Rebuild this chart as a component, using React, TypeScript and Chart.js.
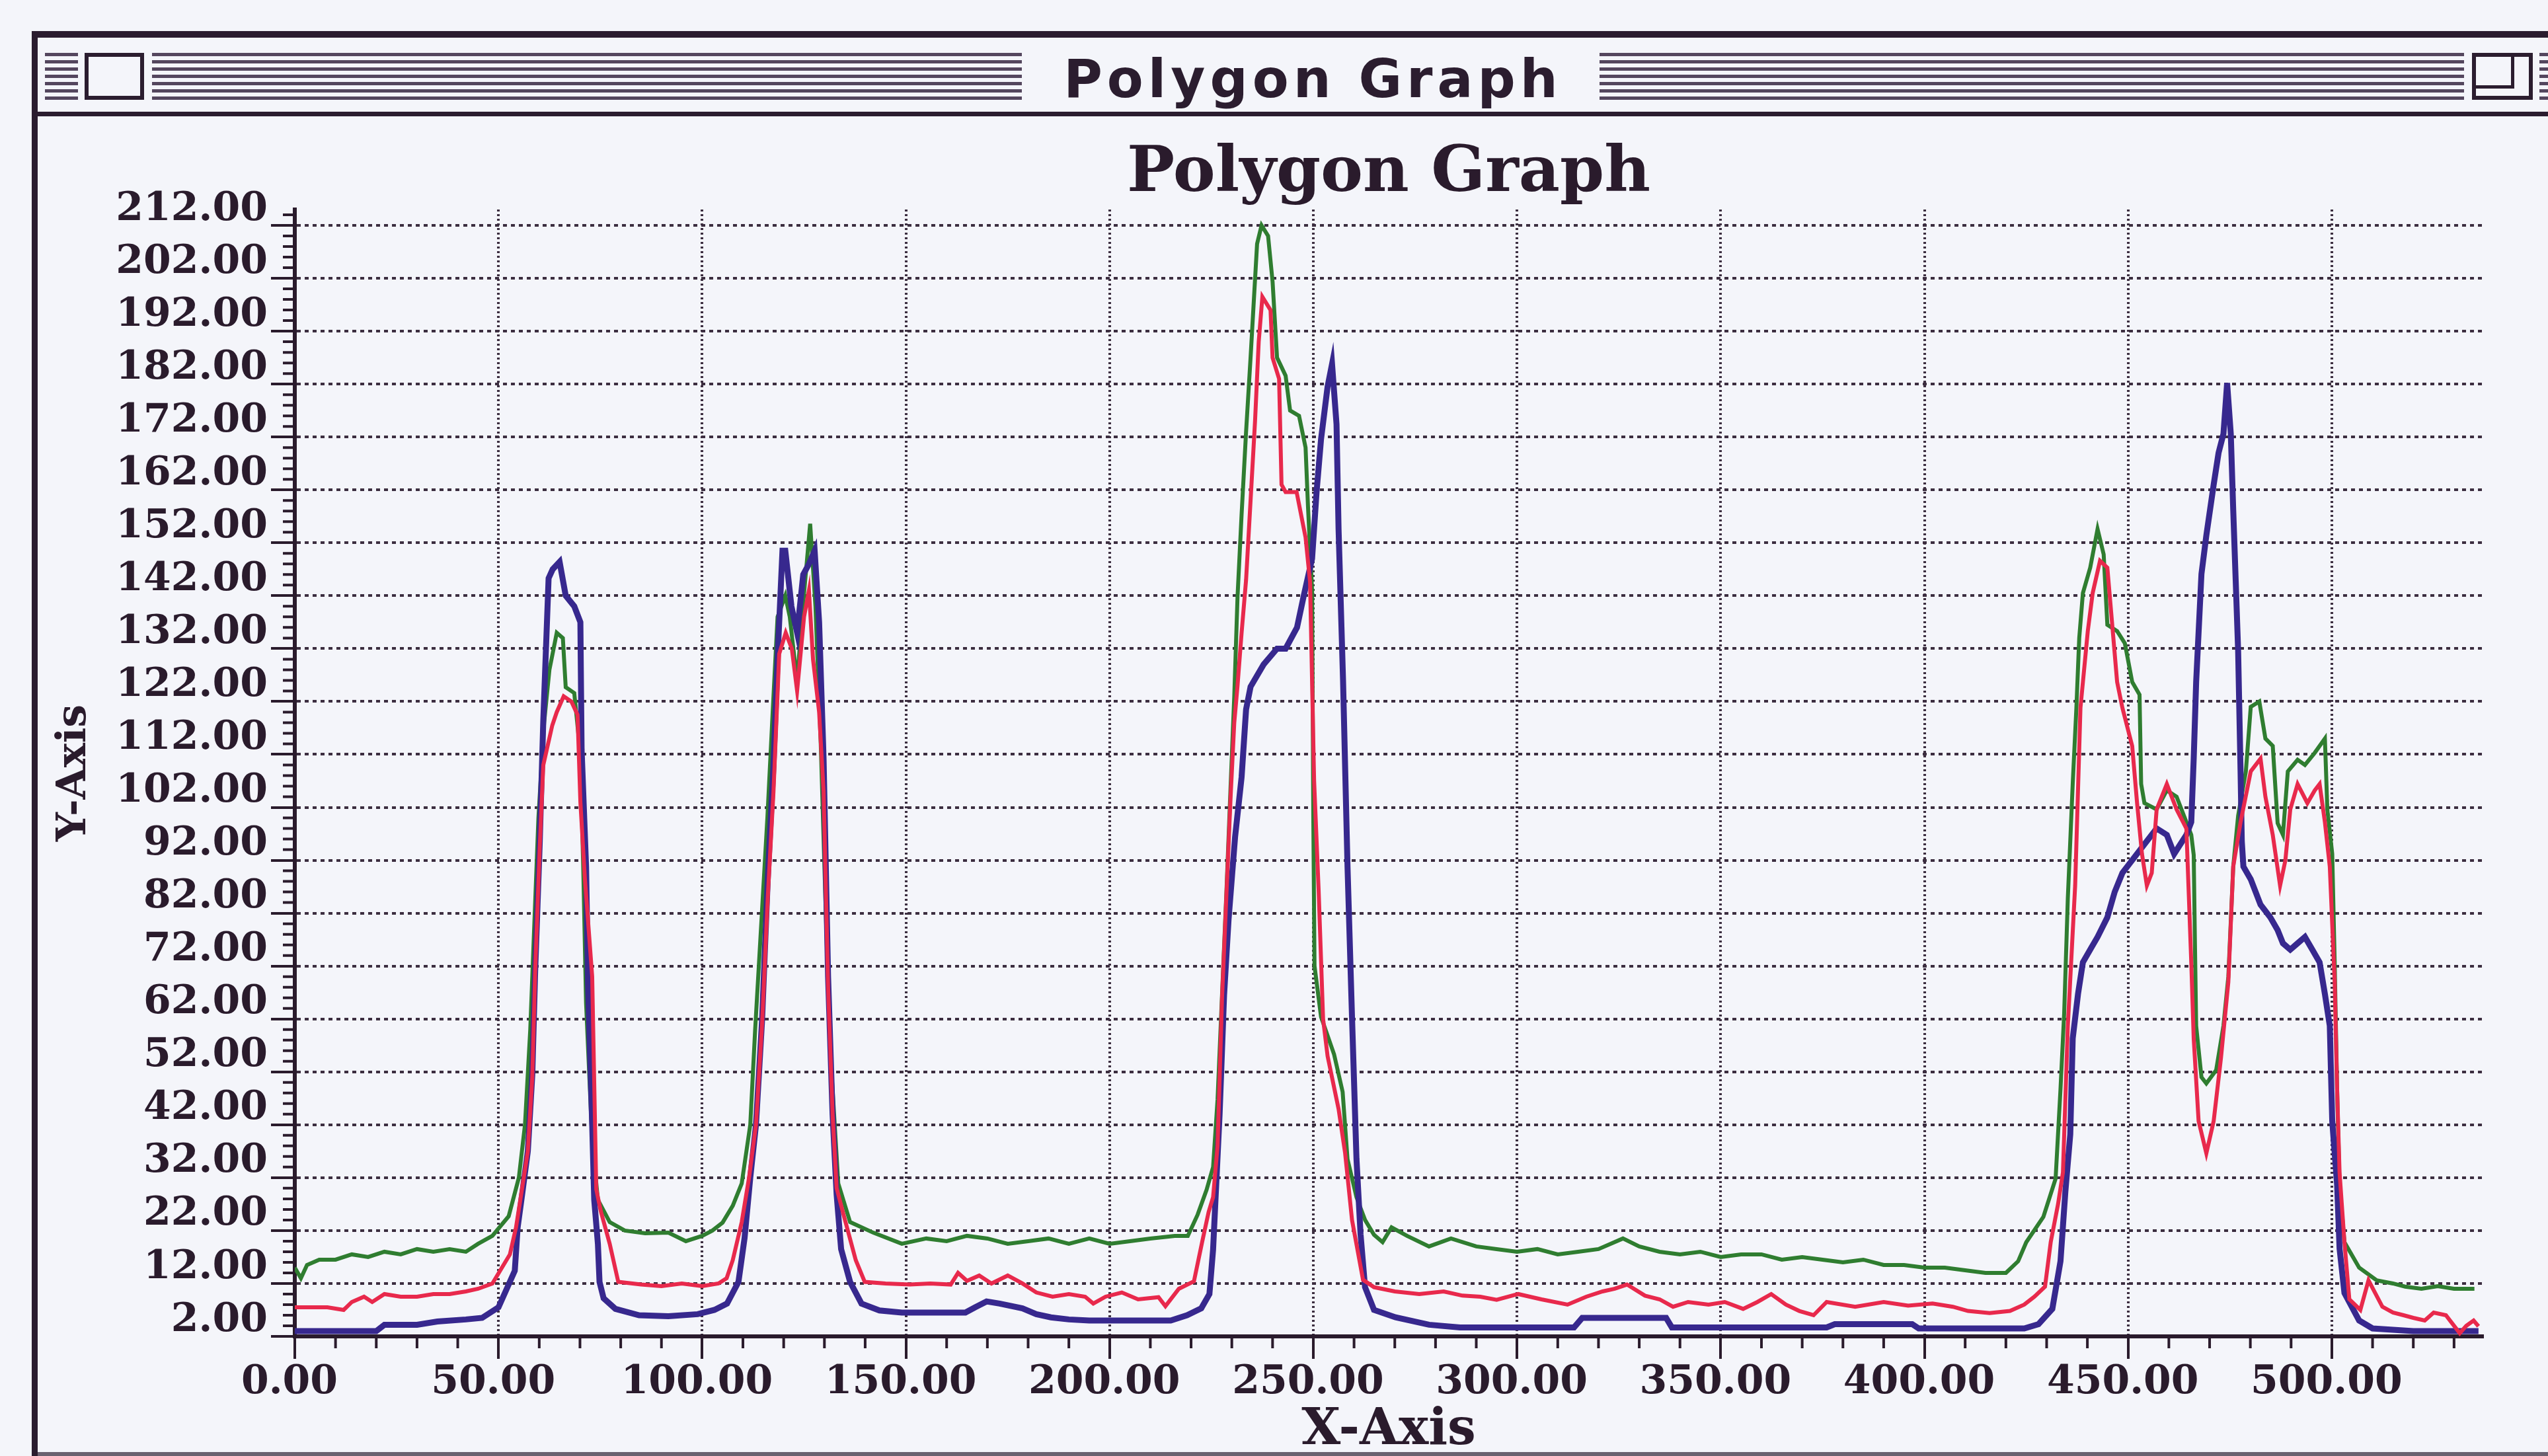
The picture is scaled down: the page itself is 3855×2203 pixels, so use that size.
import React, { useEffect, useRef } from 'react';
import { Chart, registerables } from 'chart.js';

Chart.register(...registerables);

// ---------- data ----------
const xTickValues = [0, 50, 100, 150, 200, 250, 300, 350, 400, 450, 500];
const yTickValues = [2, 12, 22, 32, 42, 52, 62, 72, 82, 92, 102, 112, 122, 132, 142, 152, 162, 172, 182, 192, 202, 212];

const greenPoints: [number, number][] = [
  [0, 15], [1.5, 13], [3, 15.5], [6, 16.5], [10, 16.5], [14, 17.5], [18, 17], [22, 18], [26, 17.5], [30, 18.5],
  [34, 18], [38, 18.5], [42, 18], [45, 19.5], [48.5, 21], [52.5, 24.7], [55, 32], [56.5, 42], [57.8, 60], [58.8, 80],
  [59.8, 100], [61.2, 118], [62.5, 128], [64.3, 135], [65.8, 134], [66.5, 124.7], [68.6, 123.6], [70.1, 112], [70.8, 90.7],
  [71.5, 65], [73, 39], [74.4, 27.8], [77.3, 23.6], [81, 22], [86, 21.5], [91.7, 21.6], [96, 20], [100, 21], [102.5, 22],
  [105, 23.5], [107.5, 26.7], [109.7, 30.9], [111.8, 42], [113, 60], [114.5, 80], [116, 100], [117.3, 120], [118.5, 138],
  [120.4, 142], [121.5, 138], [123.3, 125.7], [124.5, 138], [126.5, 155.6], [127.8, 140], [129.1, 114], [131.3, 57.7],
  [133.4, 30.9], [136.3, 23.6], [142, 21.6], [149, 19.5], [155, 20.5], [160, 20], [165, 21], [170, 20.5], [175, 19.5],
  [180, 20], [185, 20.5], [190, 19.5], [195, 20.5], [200, 19.5], [205, 20], [210, 20.5], [216, 21], [219.2, 21],
  [221.6, 25], [223.8, 29.7], [225.4, 34], [226.5, 46.8], [227.6, 66.6], [228.7, 86.5], [229.7, 106], [230.6, 123],
  [231.4, 141.8], [232.4, 157.4], [233.5, 173], [234.6, 187], [236.2, 208.5], [237.3, 212], [238.9, 210], [240, 201.4],
  [241.1, 187], [243.2, 183.6], [244.3, 177], [246.5, 176], [248.1, 170], [248.7, 158.8], [249.7, 143], [250, 100],
  [250.3, 72], [251.9, 62.4], [255.1, 55.3], [257.2, 48.2], [258.4, 35.5], [260.6, 28.3], [262.7, 24], [264.9, 21.2],
  [267, 19.8], [269.2, 22.6], [273, 21], [278.4, 19], [283.8, 20.5], [290, 19], [295, 18.5], [300, 18], [305, 18.5],
  [310, 17.5], [315, 18], [320, 18.5], [326, 20.5], [330, 19], [335, 18], [340, 17.5], [345, 18], [350, 17], [355, 17.5],
  [360, 17.5], [365, 16.5], [370, 17], [375, 16.5], [380, 16], [385, 16.5], [390, 15.5], [395, 15.5], [400, 15],
  [405, 15], [410, 14.5], [415, 14], [420, 14], [423, 16.2], [425, 19.8], [429.2, 24.6], [432.2, 31.8], [433.4, 48.7],
  [434.3, 63], [435.2, 84.8], [436.4, 106.4], [437.3, 120.8], [438, 134], [438.9, 142.5], [440.7, 147.3], [442.5, 154.6],
  [444, 149.8], [444.9, 136.5], [447.3, 135.3], [449.2, 133], [451, 125.7], [452.8, 123.3], [453.2, 106.4], [454, 102.8],
  [457, 101.6], [459.5, 105.2], [461.9, 104], [464.3, 99.2], [465.5, 96.8], [466.1, 93], [466.4, 76.3], [466.7, 60.7],
  [468, 51], [469.2, 49.8], [471.6, 52.3], [473.4, 60.7], [474.6, 70], [475.8, 90.8], [477, 100.4], [478.9, 108.8],
  [480.1, 121], [482.2, 122], [483.7, 115], [485.5, 113.6], [486.7, 99], [488, 96.8], [489.2, 108.8], [491.6, 111],
  [493.4, 110], [495.8, 112.3], [498.3, 115], [498.9, 101.6], [500.1, 93.2], [500.7, 72.7], [501.3, 48.7], [501.9, 30.6],
  [503.1, 19.8], [506.7, 15], [511, 12.6], [515, 12], [518, 11.4], [522, 11], [526, 11.5], [530, 11], [535, 11],
];

const redPoints: [number, number][] = [
  [0, 7.5], [4, 7.5], [8, 7.5], [12, 7], [14, 8.5], [17, 9.5], [19, 8.5], [22, 10], [26, 9.5], [30, 9.5], [34, 10],
  [38, 10], [42, 10.5], [45, 11], [48.5, 12], [52.8, 17.5], [54.3, 22.6], [55.8, 30], [57.2, 37], [58.3, 51], [59, 71],
  [60.1, 94], [61, 110], [63.2, 117.5], [64.3, 120], [66, 123], [67.9, 122], [69.4, 119.5], [70.1, 103], [71.2, 88.6],
  [73, 70], [74, 29.8], [75.1, 25.7], [77.3, 19.5], [79.4, 12.3], [85, 11.8], [90, 11.5], [95, 12], [100, 11.5],
  [104, 12], [106, 13], [107.5, 16.4], [109.7, 23.6], [111.5, 32], [113.2, 42], [114.7, 61], [116.1, 85], [117.5, 105],
  [118.9, 131], [120.5, 135], [122, 132], [123.3, 124], [125, 138], [126.2, 143], [127.2, 130], [128.7, 120],
  [129.8, 105], [130.9, 68], [132, 44], [133, 30], [134.8, 24.7], [137.7, 16.4], [139.9, 12.3], [145, 12], [151, 11.8],
  [156, 12], [161, 11.8], [162.8, 14], [165, 12.5], [168, 13.5], [171, 12], [175, 13.5], [178.6, 12], [182, 10.3],
  [186, 9.5], [190, 10], [194, 9.5], [196, 8.2], [199, 9.5], [203, 10.3], [207, 9], [212, 9.4], [213.7, 7.7], [217, 11],
  [220.7, 12.4], [222.7, 19.8], [224.3, 25.5], [225.4, 28.3], [226.5, 38], [227.6, 66], [228.7, 86], [229.7, 104],
  [230.6, 118], [231.4, 125], [232.4, 135], [233.5, 145], [234.6, 160], [235.7, 175], [236.6, 190], [237.5, 198.5],
  [239.5, 196], [240, 187], [241.6, 183], [242.2, 163], [243.2, 161.6], [245.9, 161.6], [248.1, 153], [249.2, 144.6],
  [250.2, 107], [251.3, 86.5], [252.4, 62], [253.5, 55], [256.2, 45], [257.8, 36.7], [259.5, 24], [262.2, 12.7],
  [264.9, 11.3], [270, 10.5], [276, 10], [282, 10.5], [286.6, 9.7], [291, 9.5], [295, 8.9], [300.3, 10], [306, 9],
  [312.4, 8], [317, 9.5], [321, 10.5], [324, 11], [327, 11.8], [331.4, 9.7], [335, 9], [338.3, 7.6], [342, 8.5],
  [347, 8], [351, 8.5], [355.5, 7.2], [359, 8.5], [362.4, 10], [366, 8], [369.3, 6.8], [372.8, 6], [376, 8.5],
  [383, 7.6], [390, 8.5], [396, 7.8], [402, 8.2], [407, 7.6], [410.7, 6.8], [416, 6.4], [421, 6.8], [424.5, 8],
  [427, 9.5], [429.6, 11.4], [431, 19.8], [432.8, 27], [434, 33], [435.2, 60.7], [437, 87.2], [438.3, 120.8],
  [440.1, 135.3], [441.3, 142.5], [443.1, 148.6], [444.9, 147.3], [447.3, 125.7], [448.6, 120.8], [451, 113.6],
  [452.2, 102.8], [453.4, 93.2], [454.6, 87.2], [455.8, 89.6], [457, 101.6], [459.5, 106.4], [461.9, 101.6], [464.3, 98],
  [465.5, 72.7], [466.1, 58.3], [467.3, 42.7], [469.2, 36.6], [471, 42.7], [472.8, 54.7], [474.6, 69], [475.8, 90.8],
  [477.6, 99.2], [480.1, 108.8], [482.5, 111.2], [483.7, 104], [485.5, 96.8], [487.3, 87.2], [488.6, 92], [489.8, 101.6],
  [491.6, 106.4], [494, 102.8], [495.8, 105.2], [497, 106.4], [498.3, 99.2], [499.5, 90.8], [500.7, 69], [501.3, 48.7],
  [501.9, 33], [503.1, 19.8], [504.3, 9], [507, 7], [509, 12.6], [512.4, 7.6], [515, 6.5], [517.6, 6], [520, 5.5],
  [522.8, 5], [525, 6.5], [528, 6], [531.4, 2.6], [533, 4], [534.8, 5], [536, 3.9],
];

const bluePoints: [number, number][] = [
  [0, 3], [10, 3], [20, 3], [22, 4.2], [30, 4.2], [35, 4.8], [42, 5.2], [46, 5.5], [50, 7.5], [54, 14.4], [54.7, 22.6],
  [55.8, 28.8], [57.2, 37], [58.3, 51.5], [59, 71], [60.1, 94.8], [61, 118.5], [62.3, 145.3], [63.3, 147], [65, 148.4],
  [66.5, 142], [68.6, 140], [70.1, 137], [70.4, 113], [71.5, 90.7], [72, 68], [73, 42], [73.5, 27.8], [74.4, 19.5],
  [74.8, 12.3], [75.8, 9.2], [78.7, 7.2], [84.5, 6], [91.7, 5.8], [98.9, 6.2], [103, 7], [106.1, 8.2], [108.9, 12.3],
  [110.4, 20.6], [111.8, 32], [113.2, 42], [114.7, 61.8], [116.1, 88.6], [117.5, 110], [118.6, 131.9], [119.7, 150.5],
  [120.4, 150.5], [121.9, 140], [123.3, 135], [124.8, 146], [126.2, 148], [127.6, 150.5], [128.7, 137], [129.8, 111],
  [130.9, 70], [132, 44], [133, 28.8], [134.1, 18.5], [136.3, 12.3], [139.1, 8.2], [143.5, 6.9], [149, 6.5], [154, 6.5],
  [160, 6.5], [164.6, 6.5], [167, 7.5], [169.8, 8.6], [173, 8.2], [178.6, 7.3], [182, 6.2], [185.6, 5.6], [190, 5.2],
  [195, 5], [205, 5], [215, 5], [219, 6], [222.5, 7.3], [224.5, 10], [225.4, 18.4], [227, 44], [228.1, 66.5],
  [229.2, 80.8], [230.8, 96.4], [232.4, 107.7], [233.5, 120.5], [234.6, 124.8], [237.8, 129], [241.1, 132], [243.2, 132],
  [246, 136], [247.6, 141.8], [249.7, 149], [250.8, 161.6], [251.9, 171.6], [253.5, 181.5], [254.6, 185.8],
  [255.7, 174.4], [256.2, 154.6], [257.3, 126], [258.4, 90.7], [259.5, 62.4], [260.6, 35.5], [261.6, 21.3],
  [262.7, 11.3], [264.9, 7], [270.2, 5.6], [278.4, 4.2], [286, 3.7], [300, 3.7], [314, 3.7], [316, 5.5], [336.6, 5.5],
  [338, 3.7], [376, 3.7], [378, 4.3], [397, 4.3], [398.6, 3.5], [424.5, 3.5], [428, 4.3], [431.4, 7.2], [432.8, 13.5],
  [433.4, 16.2], [434.6, 29.4], [435.8, 40.2], [436.4, 58.3], [437.7, 66.7], [438.9, 72.7], [440.7, 75.1], [442.5, 77.5],
  [444.9, 81.2], [446.7, 86], [448.6, 89.6], [451, 92], [453.4, 94.4], [457, 98], [459.5, 96.8], [461.3, 93.2],
  [464.3, 96.8], [465.5, 99.2], [466.1, 111.2], [466.7, 125.7], [468, 146.1], [469.2, 153.4], [471, 163], [472.2, 169],
  [473.4, 172.6], [474.3, 182.2], [475.2, 172.6], [475.8, 158.2], [476.4, 145], [477, 131.7], [477.6, 108.8],
  [477.9, 95.6], [478.3, 90.8], [480.1, 88.4], [482.5, 83.6], [484.9, 81.2], [486.7, 78.8], [488, 76.3], [489.8, 75.1],
  [491.6, 76.3], [493.4, 77.5], [495.2, 75.1], [497, 72.7], [498.3, 66.7], [499.5, 60.7], [500.1, 42.7], [501.3, 30.6],
  [501.9, 18.6], [503.1, 10.2], [506.7, 5], [510, 3.5], [520, 3], [530, 3], [536, 3],
];

// ---------- styles ----------
const BG = '#f4f5fa';
const INK = '#2a1b2c';
const FRAME = '#2b1d2f';
const STRIPE = '#54465e';
const GRID = '#3c2e40';
const GREEN = '#2f7d30';
const RED = '#e8294c';
const BLUE = '#37288e';
const SERIF = "'DejaVu Serif', serif";

const CANVAS_LEFT = 58;
const CANVAS_TOP = 178;
const CANVAS_W = 3855 - CANVAS_LEFT;
const CANVAS_H = 2203 - CANVAS_TOP;

function Frame() {
  const stripeRows = [80, 91, 102, 113, 124, 135, 146];
  const segments: [number, number][] = [[68, 118], [230, 1546], [2420, 3728], [3842, 3855]];
  const abs = (s: React.CSSProperties): React.CSSProperties => ({ position: 'absolute', ...s });
  return (
    <>
      <div style={abs({ left: 48, top: 47, width: 9, height: 2156, background: FRAME })} />
      <div style={abs({ left: 48, top: 47, width: 3807, height: 10, background: FRAME })} />
      <div style={abs({ left: 57, top: 169, width: 3798, height: 7, background: FRAME })} />
      {segments.map(([a, b]) =>
        stripeRows.map((y) => (
          <div key={`${a}-${y}`} style={abs({ left: a, top: y, width: b - a, height: 5, background: STRIPE })} />
        ))
      )}
      <div
        style={abs({
          left: 128, top: 80, width: 90, height: 71, boxSizing: 'border-box',
          border: `6px solid ${FRAME}`, background: BG,
        })}
      />
      <div
        style={abs({
          left: 3740, top: 80, width: 92, height: 71, boxSizing: 'border-box',
          border: `6px solid ${FRAME}`, background: BG,
        })}
      >
        <div
          style={abs({
            left: 0, top: 0, width: 58, height: 48, boxSizing: 'border-box',
            borderRight: `5px solid ${FRAME}`, borderBottom: `5px solid ${FRAME}`,
          })}
        />
      </div>
      <div
        style={abs({
          left: 1546, top: 80, width: 874, height: 80, lineHeight: '80px', textAlign: 'center',
          fontFamily: "'DejaVu Sans', sans-serif", fontWeight: 'bold', fontSize: 80, letterSpacing: 7,
          paddingLeft: 7, boxSizing: 'border-box', color: FRAME, whiteSpace: 'nowrap', background: BG,
        })}
      >
        Polygon Graph
      </div>
    </>
  );
}

export default function App() {
  const ref = useRef<HTMLCanvasElement>(null);

  useEffect(() => {
    if (!ref.current) return;
    const toXY = (pts: [number, number][]) => pts.map(([x, y]) => ({ x, y }));

    const xMinor: number[] = [];
    for (let i = 0; i < xTickValues.length; i++) {
      for (let k = 1; k < 5; k++) {
        const v = xTickValues[i] + k * 10;
        if (v < 537) xMinor.push(v);
      }
    }
    const yMinor: number[] = [];
    for (let i = 0; i < yTickValues.length; i++) {
      for (let k = 1; k < 5; k++) {
        const v = yTickValues[i] + k * 2;
        if (v < 215) yMinor.push(v);
      }
    }

    const minorTicks = {
      id: 'minorTicks',
      afterDraw(chart: any) {
        const { ctx, chartArea, scales } = chart;
        ctx.save();
        ctx.strokeStyle = INK;
        ctx.lineWidth = 4;
        ctx.beginPath();
        for (const v of xMinor) {
          const px = scales.x.getPixelForValue(v);
          ctx.moveTo(px, chartArea.bottom);
          ctx.lineTo(px, chartArea.bottom + 18);
        }
        for (const v of yMinor) {
          const py = scales.y.getPixelForValue(v);
          ctx.moveTo(chartArea.left, py);
          ctx.lineTo(chartArea.left - 18, py);
        }
        ctx.stroke();
        ctx.restore();
      },
    };

    const tickFont = { family: SERIF, weight: 'bold' as const, size: 60 };

    const chart = new Chart(ref.current, {
      type: 'line',
      data: {
        datasets: [
          { label: 'Red', data: toXY(redPoints), borderColor: RED, borderWidth: 6, pointRadius: 0, tension: 0, fill: false },
          { label: 'Blue', data: toXY(bluePoints), borderColor: BLUE, borderWidth: 9, pointRadius: 0, tension: 0, fill: false },
          { label: 'Green', data: toXY(greenPoints), borderColor: GREEN, borderWidth: 6, pointRadius: 0, tension: 0, fill: false },
        ],
      },
      options: {
        animation: false,
        responsive: false,
        events: [],
        layout: { padding: { left: 0, right: 99, top: 0, bottom: 0 } },
        plugins: {
          legend: { display: false },
          tooltip: { enabled: false },
          title: {
            display: true,
            text: 'Polygon Graph',
            fullSize: false,
            color: INK,
            font: { family: SERIF, weight: 'bold', size: 96, lineHeight: 1.0 },
            padding: { top: 38, bottom: 5 },
          },
        },
        scales: {
          x: {
            type: 'linear',
            min: 0,
            max: 537,
            afterBuildTicks: (s: any) => { s.ticks = xTickValues.map((v) => ({ value: v })); },
            afterFit: (s: any) => { s.height = 181; },
            ticks: {
              callback: (v: any) => Number(v).toFixed(2),
              font: tickFont,
              color: INK,
              padding: 0,
              labelOffset: -8,
              maxRotation: 0,
              autoSkip: false,
            },
            grid: {
              color: GRID,
              lineWidth: 4,
              tickLength: 34,
              tickColor: INK,
              tickWidth: 4,
              tickBorderDash: [],
            },
            border: { display: true, color: INK, width: 6, dash: [3, 4] },
            title: {
              display: true,
              text: 'X-Axis',
              color: INK,
              font: { family: SERIF, weight: 'bold', size: 76, lineHeight: 1.0 },
              padding: { top: 0, bottom: 0 },
            },
          },
          y: {
            type: 'linear',
            min: 2,
            max: 215,
            afterBuildTicks: (s: any) => { s.ticks = yTickValues.map((v) => ({ value: v })); },
            afterFit: (s: any) => { s.width = 388; },
            ticks: {
              callback: (v: any) => Number(v).toFixed(2),
              font: tickFont,
              color: INK,
              padding: 5,
              labelOffset: -24,
              autoSkip: false,
            },
            grid: {
              color: GRID,
              lineWidth: 4,
              tickLength: 36,
              tickColor: INK,
              tickWidth: 4,
              tickBorderDash: [],
            },
            border: { display: true, color: INK, width: 6, dash: [6, 6] },
            title: {
              display: true,
              text: 'Y-Axis',
              color: INK,
              font: { family: SERIF, weight: 'bold', size: 62 },
              padding: { top: 18, bottom: 0 },
            },
          },
        },
      },
      plugins: [minorTicks],
    } as any);

    return () => chart.destroy();
  }, []);

  return (
    <div
      style={{
        position: 'absolute', left: 0, top: 0, width: 3855, height: 2203,
        background: BG, overflow: 'hidden',
      }}
    >
      <Frame />
      <canvas
        ref={ref}
        width={CANVAS_W}
        height={CANVAS_H}
        style={{ position: 'absolute', left: CANVAS_LEFT, top: CANVAS_TOP, width: CANVAS_W, height: CANVAS_H }}
      />
      <div style={{ position: 'absolute', left: 57, top: 2197, width: 3798, height: 6, background: '#6a6270' }} />
    </div>
  );
}
